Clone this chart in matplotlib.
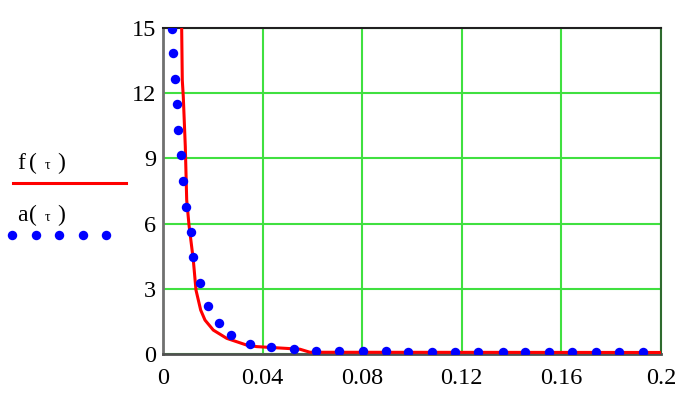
import numpy as np
import matplotlib.pyplot as plt
from matplotlib.lines import Line2D

# Dados
tau_f = [0.0075, 0.00775, 0.00815, 0.00896, 0.00952, 0.01044, 0.01217, 0.01325,
         0.01514, 0.01687, 0.0202, 0.0256, 0.0336, 0.0376, 0.0550, 0.0570,
         0.0590, 0.2]
f_vals = [15.0, 12.6, 11.84, 9.54, 7.09, 5.94, 4.33, 2.94,
          2.02, 1.56, 1.10, 0.72, 0.41, 0.34, 0.22, 0.15,
          0.08, 0.07]

tau_a = [0.00349, 0.00414, 0.00482, 0.00550, 0.00614, 0.00723, 0.00791, 0.00924,
         0.01112, 0.01217, 0.01486, 0.01819, 0.0223, 0.0273, 0.0349, 0.0433,
         0.0526, 0.0613, 0.0708, 0.0802, 0.0896, 0.0985, 0.108, 0.1173,
         0.1266, 0.1364, 0.1454, 0.155, 0.1644, 0.1739, 0.1833, 0.1929]
a_vals = [14.95, 13.84, 12.65, 11.49, 10.31, 9.16, 7.96, 6.78,
          5.63, 4.45, 3.28, 2.19, 1.41, 0.89, 0.47, 0.31,
          0.23, 0.15, 0.15, 0.15, 0.15, 0.11, 0.11, 0.10,
          0.10, 0.10, 0.10, 0.10, 0.10, 0.10, 0.10, 0.10]

x_ticks = [0, 0.04, 0.08, 0.12, 0.16, 0.2]
x_labels = ['0', '0.04', '0.08', '0.12', '0.16', '0.2']
y_ticks = [0, 3, 6, 9, 12, 15]

plt.rcParams['font.family'] = ['Liberation Serif', 'DejaVu Serif']

fig = plt.figure(figsize=(6.93, 3.99), dpi=100)
ax = fig.add_axes([0.2352, 0.1128, 0.7186, 0.817])

ax.plot(tau_f, f_vals, color='#ff0000', lw=2.2, zorder=3)
ax.plot(tau_a, a_vals, 'o', color='#0000ff', ms=6.8, mec='none', zorder=4)

ax.set_xlim(0, 0.2)
ax.set_ylim(0, 15)
ax.set_xticks(x_ticks)
ax.set_xticklabels(x_labels)
ax.set_yticks(y_ticks)
ax.tick_params(length=0, labelsize=17.5)
ax.tick_params(axis='x', pad=10)
ax.tick_params(axis='y', pad=5)
ax.grid(True, color='#40e040', lw=1.5)
ax.set_axisbelow(True)

ax.spines['left'].set_color('#707070')
ax.spines['left'].set_linewidth(2)
ax.spines['bottom'].set_color('#505050')
ax.spines['bottom'].set_linewidth(2)
ax.spines['top'].set_color('#202020')
ax.spines['top'].set_linewidth(1.5)
ax.spines['right'].set_color('#2e6b2e')
ax.spines['right'].set_linewidth(1.5)

# Legenda à esquerda (estilo Mathcad)
def label(y_px, name):
    y = 1 - y_px / 399
    fig.text(17 / 693, y, name, fontsize=17, va='baseline')
    fig.text(29 / 693, y, '(', fontsize=17, va='baseline')
    fig.text(45 / 693, y, 'τ', fontsize=10, va='baseline')
    fig.text(57 / 693, y, ')', fontsize=17, va='baseline')

label(169, 'f')
label(221, 'a')

fig.add_artist(Line2D([13 / 693, 126 / 693], [1 - 183 / 399, 1 - 183 / 399],
                      color='#ff0000', lw=2.2, transform=fig.transFigure))
leg_x = np.array([12, 35.5, 59, 82.5, 106]) / 693
fig.add_artist(Line2D(leg_x, [1 - 235 / 399] * 5, ls='none', marker='o',
                      color='#0000ff', ms=6.8, mec='none',
                      transform=fig.transFigure))

plt.savefig('out.png', dpi=100)
